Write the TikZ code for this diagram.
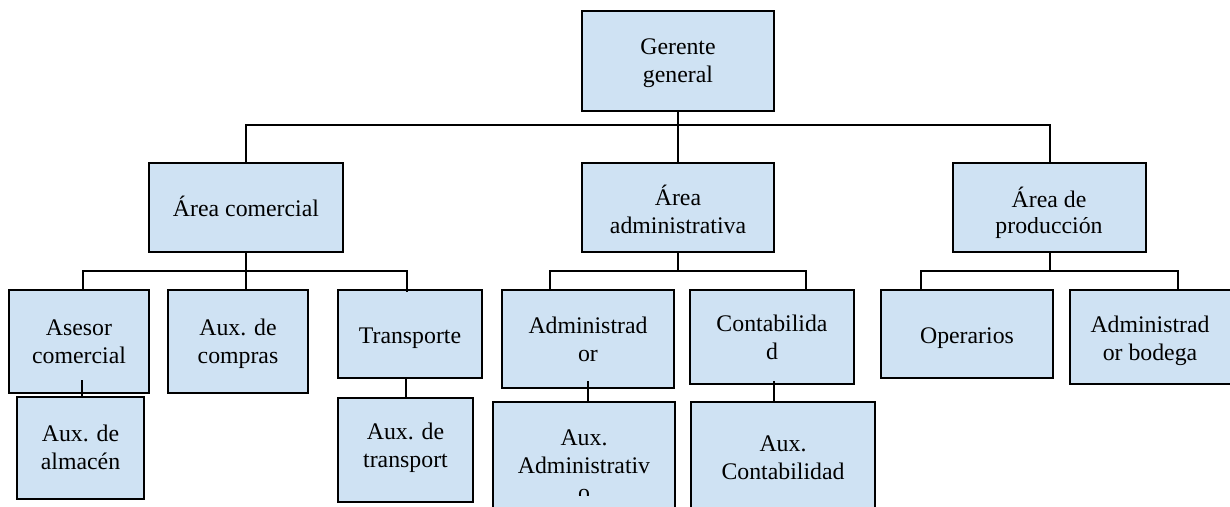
\documentclass[tikz,border=0pt]{standalone}
\usepackage{fontspec}
\setmainfont{Liberation Serif}
\definecolor{boxblue}{RGB}{207,226,243}
% box from its corners: name, x1, y1, x2, y2 (y grows downwards)
\newcommand\unitbox[5]{%
  \node[orgbox, minimum width={(#4-#2)*1pt}, minimum height={(#5-#3)*1pt}]
    (#1) at ({(#2+#4)/2},{(#3+#5)/2}) {};}
\begin{document}
\begin{tikzpicture}[x=1pt,y=-1pt,
  orgbox/.style={draw=black, line width=2pt, fill=boxblue, inner sep=0pt, outer sep=0pt},
  lbl/.style={font=\fontsize{23.8}{27.5}\selectfont, align=center, anchor=base, inner sep=0pt},
  link/.style={draw=black, line width=2pt}]
\clip (0,0) rectangle (1230,506);
\fill[white] (0,0) rectangle (1230,506);

% boxes
\unitbox{g}{582}{11}{774}{111}
\unitbox{ac}{149}{163}{343}{252}
\unitbox{aa}{582}{163}{774}{252}
\unitbox{ap}{953}{163}{1146}{252}
\unitbox{ase}{9}{290}{149}{393}
\unitbox{cmp}{168}{290}{308}{393}
\unitbox{tra}{338}{290}{482}{378}
\unitbox{alm}{17}{397}{144}{499}
\unitbox{atr}{338}{398}{473}{502}
\unitbox{adm}{502}{290}{674}{388}
\unitbox{con}{690}{290}{854}{384}
\unitbox{aad}{493}{402}{675}{530}
\unitbox{acon}{691}{402}{875}{530}
\unitbox{ope}{881}{290}{1053}{378}
\unitbox{bod}{1070}{290}{1245}{384}

% labels (anchored on the baseline of their last line)
\node[lbl] (tg) at (678,82) {Gerente\\general};
\node[lbl] (tac) at (246,216) {Área comercial};
\node[lbl] (taa) at (678,233) {Área\\administrativa};
\node[lbl] (tap1) at (1049,207) {Área de};
\begin{scope}
  \clip (953,217) rectangle (1146,252);
  \node[lbl] (tap2) at (1049,233) {producción};
\end{scope}
\node[lbl] (tase) at (79,363) {Asesor\\comercial};
\node[lbl] (tcmp) at (238,363) {Aux. de\\compras};
\node[lbl] (ttra) at (410,343) {Transporte};
\node[lbl] (talm) at (80.5,469) {Aux. de\\almacén};
\node[lbl] (tatr) at (405.5,467) {Aux. de\\transport};
\node[lbl] (tadm) at (588,361) {Administrad\\or};
\node[lbl] (tcon) at (772,359) {Contabilida\\d};
\begin{scope}
  \clip (493,402) rectangle (675,495);
  \node[lbl] (taad) at (584,500.5) {Aux.\\Administrativ\\o};
\end{scope}
\node[lbl] (tacon) at (783,479) {Aux.\\Contabilidad};
\node[lbl] (tope) at (967,343) {Operarios};
\node[lbl] (tbod) at (1150,360) {Administrad\\or bodega};

% top level
\coordinate (bus0) at (678,125);
\draw[link] (g.south) -- (aa.north);
\draw[link] (ac.north) |- (bus0) -| (ap.north);

% área comercial
\coordinate (bus1) at (246,271);
\draw[link] (ac.south) -- (ac.south |- cmp.north);
\draw[link] ([xshift=4pt]ase.north) |- (bus1) -| ([xshift=-3pt,yshift=-2pt]tra.north);
\draw[link] ([xshift=1.5pt,yshift=13pt]alm.north |- ase.south) -- ([xshift=1.5pt]alm.north);
\draw[link] (tra.south -| atr.north) -- (atr.north);

% área administrativa
\coordinate (bus2) at (678,271);
\draw[link] (aa.south) -- (bus2);
\draw[link] ([xshift=-38pt]adm.north) |- (bus2) -| ([xshift=34pt]con.north);
\draw[link] ([yshift=7pt]adm.south) -- (adm.south |- aad.north);
\draw[link] ([xshift=2pt,yshift=3pt]con.south) -- ([xshift=2pt]con.south |- acon.north);

% área de producción
\coordinate (bus3) at (1049.5,271);
\draw[link] (ap.south) -- (bus3);
\draw[link] ([xshift=-46pt]ope.north) |- (bus3) -| ([xshift=20.5pt]bod.north);
\end{tikzpicture}
\end{document}
